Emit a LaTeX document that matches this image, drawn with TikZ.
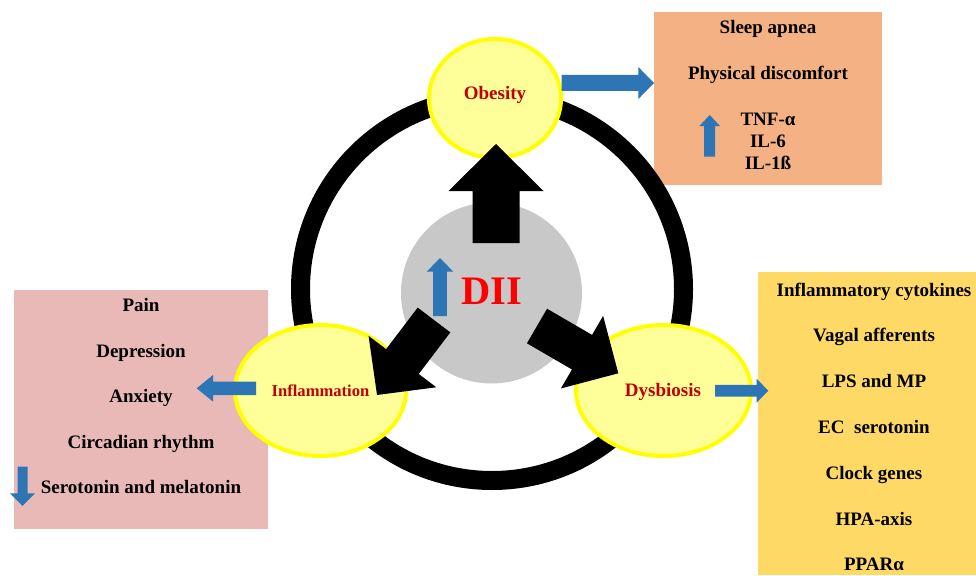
\documentclass[tikz,border=0pt]{standalone}
\usepackage{fontspec}
\setmainfont{Liberation Serif}
\usetikzlibrary{shapes.geometric,calc}
\definecolor{orangebox}{HTML}{F4B183}
\definecolor{pinkbox}{HTML}{E9B9B8}
\definecolor{yellowbox}{HTML}{FFD966}
\definecolor{ellfill}{HTML}{FFFF99}
\definecolor{ellline}{HTML}{FFFF00}
\definecolor{graydisc}{HTML}{C8C8C8}
\definecolor{arrblue}{HTML}{2E75B6}
\definecolor{lblred}{HTML}{C00000}
\definecolor{diired}{HTML}{FF0000}
\newcommand\blockarr[6]{%
  \coordinate (hb) at ($(#2)!#5!(#1)$);
  \fill[#6] ($(#1)!#3!90:(#2)$) -- ($(hb)!#3!90:(#2)$) -- ($(hb)!#4!90:(#2)$) -- (#2)
    -- ($(hb)!#4!-90:(#2)$) -- ($(hb)!#3!-90:(#2)$) -- ($(#1)!#3!-90:(#2)$) -- cycle;
}
\tikzset{
  boxsty/.style={draw=none, inner sep=0pt, anchor=north west},
  txt/.style={inner sep=0pt, anchor=base, font=\fontsize{19}{22}\selectfont\bfseries},
  ell/.style={ellipse, draw=ellline, line width=4pt, fill=ellfill, inner sep=0pt},
  lbl/.style={inner sep=0pt, anchor=base, text=lblred, font=\fontsize{19}{22}\selectfont\bfseries},
}
\begin{document}
\begin{tikzpicture}[x=1pt,y=-1pt]
\useasboundingbox (0,0) rectangle (976,575);
\fill[white] (0,0) rectangle (976,575);
% boxes
\node[boxsty, fill=orangebox, minimum width=228pt, minimum height=173pt] (obox) at (654,12) {};
\node[boxsty, fill=pinkbox, minimum width=254.4pt, minimum height=239pt] (pbox) at (13.3,289.3) {};
\node[boxsty, fill=yellowbox, minimum width=218pt, minimum height=303pt] (ybox) at (758,272) {};
% ring
\node[circle, draw=black, line width=19pt, minimum size=383pt, inner sep=0pt] (ring) at (492,289) {};
% grey disc
\node[circle, fill=graydisc, minimum size=181pt, inner sep=0pt] (dii) at (491.5,293) {};
% ellipses
\node[ell, minimum width=132pt, minimum height=119pt] (obesity) at (495,98.5) {};
\node[ell, minimum width=171pt, minimum height=131pt] (inflam) at (320.5,390.5) {};
\node[ell, minimum width=175pt, minimum height=131pt] (dysb) at (663.5,390.5) {};
% black arrows
\coordinate (t1) at (496,243); \coordinate (p1) at (496,144);
\coordinate (t2) at (434,320); \coordinate (p2) at (377,395);
\coordinate (t3) at (537,326); \coordinate (p3) at (618.3,373.3);
\blockarr{t1}{p1}{23.5pt}{47.5pt}{47pt}{black}
\blockarr{t2}{p2}{20.5pt}{42.5pt}{42pt}{black}
\blockarr{t3}{p3}{20pt}{42pt}{42pt}{black}
% blue arrows
\coordinate (bo1) at (561.7,83); \coordinate (bo2) at (654,83);
\coordinate (bi1) at (256,388.3); \coordinate (bi2) at (196.7,388.3);
\coordinate (bd1) at (715,390.7); \coordinate (bd2) at (768.3,390.7);
\coordinate (bg1) at (440,316); \coordinate (bg2) at (440,258);
\coordinate (bu1) at (709.7,156.7); \coordinate (bu2) at (709.7,115);
\coordinate (bp1) at (22.5,466.7); \coordinate (bp2) at (22.5,506);
\blockarr{bo1}{bo2}{8pt}{16pt}{15.7pt}{arrblue}
\blockarr{bi1}{bi2}{6.7pt}{13.3pt}{16.3pt}{arrblue}
\blockarr{bd1}{bd2}{5.8pt}{12pt}{11.7pt}{arrblue}
\blockarr{bg1}{bg2}{6.8pt}{13.3pt}{13.7pt}{arrblue}
\blockarr{bu1}{bu2}{5.5pt}{10.3pt}{11pt}{arrblue}
\blockarr{bp1}{bp2}{5pt}{12.5pt}{12.7pt}{arrblue}
% labels
\node[lbl] (lobes) at (495,100) {Obesity};
\node[lbl, font=\fontsize{16.6}{20}\selectfont\bfseries] (linfl) at (320.5,396) {Inflammation};
\node[lbl] (ldysb) at (663,396) {Dysbiosis};
\node[inner sep=0pt, anchor=base, text=diired, font=\fontsize{40.5}{44}\selectfont\bfseries] (diitxt) at (492,304) {DII};
% orange box texts
\node[txt] (o1) at (768,34) {Sleep apnea};
\node[txt] (o2) at (768,80) {Physical discomfort};
\node[txt] (o3) at (768,125) {TNF-α};
\node[txt] (o4) at (768,147.3) {IL-6};
\node[txt] (o5) at (768,169.3) {IL-1ß};
% pink box texts
\node[txt] (p1t) at (141,311.7) {Pain};
\node[txt] (p2t) at (141,357.3) {Depression};
\node[txt] (p3t) at (141,402.7) {Anxiety};
\node[txt] (p4t) at (141,448.3) {Circadian rhythm};
\node[txt] (p5t) at (141,493.3) {Serotonin and melatonin};
% yellow box texts
\node[txt] (y1) at (874,296) {Inflammatory cytokines};
\node[txt] (y2) at (874,341.7) {Vagal afferents};
\node[txt] (y3) at (874,387.3) {LPS and MP};
\node[txt] (y4) at (874,433.3) {EC\ \ serotonin};
\node[txt] (y5) at (874,479) {Clock genes};
\node[txt] (y6) at (874,525) {HPA-axis};
\node[txt] (y7) at (874,570) {PPARα};
\end{tikzpicture}
\end{document}
